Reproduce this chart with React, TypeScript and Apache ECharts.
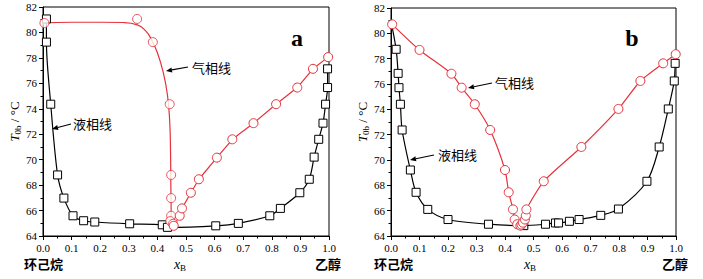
import React, { useEffect, useRef } from "react";
import * as echarts from "echarts";

// ---------- data ----------
// Panel a
const liquidA: [number, number][] = [
  [0.012, 81.06], [0.012, 79.24], [0.027, 74.36], [0.051, 68.8], [0.073, 66.98],
  [0.105, 65.59], [0.142, 65.2], [0.181, 65.1], [0.303, 64.96], [0.417, 64.88],
  [0.435, 64.68], [0.604, 64.8], [0.683, 64.99], [0.793, 65.59], [0.83, 66.17],
  [0.898, 67.4], [0.931, 68.46], [0.948, 70.2], [0.964, 71.6], [0.979, 72.87],
  [0.988, 74.36], [0.995, 75.67], [0.995, 77.14],
];
const vaporCurveA: [number, number][] = [
  [0.0, 80.75], [0.1, 80.8], [0.2, 80.8], [0.28, 80.78], [0.33, 80.6], [0.36, 80.1],
  [0.38, 79.4], [0.4, 78.4], [0.42, 76.9], [0.435, 75.1], [0.443, 73.0],
  [0.446, 70.5], [0.447, 68.0], [0.448, 66.0], [0.448, 65.2],
];
const vaporPointsA: [number, number][] = [
  [0.005, 80.74], [0.329, 81.06], [0.384, 79.24], [0.443, 74.36], [0.448, 68.8],
  [0.448, 66.98], [0.448, 65.59], [0.445, 65.17], [0.455, 64.96],
];
const vaporBranchA: [number, number][] = [
  [0.457, 64.8], [0.478, 65.59], [0.486, 66.17], [0.517, 67.4], [0.545, 68.46],
  [0.608, 70.16], [0.662, 71.6], [0.736, 72.87], [0.815, 74.36], [0.889, 75.67],
  [0.944, 77.14], [0.997, 78.06],
];
// Panel b
const liquidB: [number, number][] = [
  [0.0, 80.95], [0.018, 78.74], [0.025, 76.84], [0.028, 75.71], [0.033, 74.4],
  [0.039, 72.37], [0.068, 69.21], [0.088, 67.45], [0.129, 66.1], [0.2, 65.3],
  [0.342, 64.93], [0.466, 64.82], [0.542, 64.93], [0.577, 65.03], [0.588, 65.03],
  [0.626, 65.16], [0.66, 65.3], [0.736, 65.63], [0.798, 66.13], [0.898, 68.32],
  [0.941, 71.03], [0.973, 74.03], [0.994, 76.24], [0.997, 77.63],
];
const vaporLeftB: [number, number][] = [
  [0.004, 80.71], [0.1, 78.69], [0.212, 76.81], [0.248, 75.71], [0.294, 74.4],
  [0.348, 72.37], [0.4, 69.21], [0.413, 67.45], [0.428, 66.1], [0.434, 65.3],
  [0.443, 64.93], [0.454, 64.82],
];
const vaporRightB: [number, number][] = [
  [0.458, 64.9], [0.463, 65.05], [0.47, 65.3], [0.473, 65.6], [0.475, 66.1],
  [0.536, 68.32], [0.668, 71.03], [0.798, 74.03], [0.875, 76.24], [0.955, 77.63],
  [0.999, 78.35],
];
const xMin = 0, xMax = 1, xStep = 0.1;
const yMin = 64, yMax = 82, yStep = 2;
const panelLabels = ["a", "b"];
const leftComponent = "环己烷";
const rightComponent = "乙醇";
const vaporName = "气相线";
const liquidName = "液相线";

const RED = "#e5323b";
const SERIF = "'Liberation Serif', 'DejaVu Serif', serif";
const CJK = "'Noto Sans CJK SC', sans-serif";

function arrow(x1: number, y1: number, x2: number, y2: number) {
  // tail (x1,y1) -> head (x2,y2)
  const dx = x2 - x1, dy = y2 - y1;
  const len = Math.hypot(dx, dy);
  const ux = dx / len, uy = dy / len;
  const hl = 6, hw = 2.5;
  const bx = x2 - ux * hl, by = y2 - uy * hl;
  return [
    { type: "line", shape: { x1, y1, x2: bx, y2: by }, style: { stroke: "#000", lineWidth: 1.2 } },
    {
      type: "polygon",
      shape: { points: [[x2, y2], [bx - uy * hw, by + ux * hw], [bx + uy * hw, by - ux * hw]] },
      style: { fill: "#000" },
    },
  ];
}

export default function App() {
  const ref = useRef<HTMLDivElement>(null);
  useEffect(() => {
    if (!ref.current) return;
    const chart = echarts.init(ref.current, null, { renderer: "svg" });
    const grids = [
      { left: 43, top: 7, width: 286, height: 229 },
      { left: 391, top: 8, width: 285, height: 228 },
    ];
    const xAxis = grids.map((_, i) => ({
      type: "value",
      gridIndex: i,
      min: xMin,
      max: xMax,
      interval: xStep,
      axisLine: { show: true, onZero: false, lineStyle: { color: "#000", width: 1 } },
      axisTick: { show: true, inside: false, length: 4, lineStyle: { color: "#000" } },
      minorTick: { show: true, splitNumber: 2, length: 2.5, lineStyle: { color: "#000" } },
      splitLine: { show: false },
      axisLabel: {
        color: "#000",
        fontFamily: SERIF,
        fontSize: 11,
        margin: 6,
        formatter: (v: number) => v.toFixed(1),
      },
    }));
    const yAxis = grids.map((_, i) => ({
      type: "value",
      gridIndex: i,
      min: yMin,
      max: yMax,
      interval: yStep,
      axisLine: { show: true, onZero: false, lineStyle: { color: "#000", width: 1 } },
      axisTick: { show: true, inside: false, length: 4, lineStyle: { color: "#000" } },
      minorTick: { show: true, splitNumber: 2, length: 2.5, lineStyle: { color: "#000" } },
      splitLine: { show: false },
      axisLabel: { color: "#000", fontFamily: SERIF, fontSize: 11, margin: 6 },
      name: "{i|T}{s|0b}{n| / °C}",
      nameLocation: "middle",
      nameGap: 19,
      nameRotate: 90,
      nameTextStyle: {
        rich: {
          i: { fontFamily: SERIF, fontStyle: "italic", fontSize: 13, color: "#000" },
          s: { fontFamily: SERIF, fontSize: 9, color: "#000", verticalAlign: "bottom", padding: [6, 0, 0, 0] },
          n: { fontFamily: SERIF, fontSize: 13, color: "#000" },
        },
      },
    }));

    const squareStyle = { color: "#fff", borderColor: "#000", borderWidth: 1 };
    const circleStyle = { color: "#fff", borderColor: RED, borderWidth: 1 };

    const series: any[] = [
      {
        type: "line", xAxisIndex: 0, yAxisIndex: 0, data: liquidA, smooth: 0.3,
        symbol: "rect", symbolSize: 8, itemStyle: squareStyle,
        lineStyle: { color: "#000", width: 1.2 }, z: 3,
      },
      {
        type: "line", xAxisIndex: 0, yAxisIndex: 0, data: vaporCurveA, smooth: 0.5,
        symbol: "none", lineStyle: { color: RED, width: 1.2 }, z: 2,
      },
      {
        type: "scatter", xAxisIndex: 0, yAxisIndex: 0, data: vaporPointsA,
        symbol: "circle", symbolSize: 9, itemStyle: circleStyle, z: 4,
      },
      {
        type: "line", xAxisIndex: 0, yAxisIndex: 0, data: vaporBranchA,
        symbol: "circle", symbolSize: 9, itemStyle: circleStyle,
        lineStyle: { color: RED, width: 1.2 }, z: 4,
      },
      {
        type: "line", xAxisIndex: 1, yAxisIndex: 1,
        data: liquidB.map((p, i) => (i === 0 ? { value: p, symbol: "none" } : p)),
        smooth: 0.3, symbol: "rect", symbolSize: 8, itemStyle: squareStyle,
        lineStyle: { color: "#000", width: 1.2 }, z: 3,
      },
      {
        type: "line", xAxisIndex: 1, yAxisIndex: 1, data: vaporLeftB, smooth: 0.25,
        symbol: "circle", symbolSize: 9, itemStyle: circleStyle,
        lineStyle: { color: RED, width: 1.2 }, z: 4,
      },
      {
        type: "line", xAxisIndex: 1, yAxisIndex: 1, data: vaporRightB, smooth: 0.2,
        symbol: "circle", symbolSize: 9, itemStyle: circleStyle,
        lineStyle: { color: RED, width: 1.2 }, z: 4,
      },
    ];

    const txt = (x: number, y: number, text: string, extra: any = {}) => ({
      type: "text",
      x, y,
      style: { text, fill: "#000", fontFamily: CJK, fontSize: 13, align: "left", verticalAlign: "middle", ...extra },
    });
    const xName = (cx: number) => ({
      type: "text",
      x: cx, y: 264,
      style: {
        text: "{i|x}{s|B}",
        align: "center",
        verticalAlign: "middle",
        rich: {
          i: { fontFamily: SERIF, fontStyle: "italic", fontSize: 14, fill: "#000" } as any,
          s: { fontFamily: SERIF, fontSize: 9, fill: "#000", padding: [7, 0, 0, 0] } as any,
        },
      },
    });

    const graphic: any[] = [
      { type: "text", x: 297, y: 38, style: { text: panelLabels[0], fill: "#000", fontFamily: SERIF, fontWeight: "bold", fontSize: 24, align: "center", verticalAlign: "middle" } },
      { type: "text", x: 632, y: 38, style: { text: panelLabels[1], fill: "#000", fontFamily: SERIF, fontWeight: "bold", fontSize: 24, align: "center", verticalAlign: "middle" } },
      txt(192, 67, vaporName),
      ...arrow(188, 67, 166, 71),
      txt(73, 123, liquidName),
      ...arrow(71, 124, 52, 129),
      txt(495, 82, vaporName),
      ...arrow(492, 83, 468, 88),
      txt(438, 154, liquidName),
      ...arrow(434, 155, 410, 160),
      txt(24, 263, leftComponent, { fontWeight: "bold" }),
      txt(315, 263, rightComponent, { fontWeight: "bold" }),
      txt(374, 263, leftComponent, { fontWeight: "bold" }),
      txt(662, 263, rightComponent, { fontWeight: "bold" }),
      xName(180),
      xName(530),
    ];

    chart.setOption({
      animation: false,
      backgroundColor: "#fff",
      grid: grids.map((g) => ({ ...g, show: true, borderColor: "#000", borderWidth: 1, backgroundColor: "transparent" })),
      xAxis,
      yAxis,
      series,
      graphic,
    });
    return () => chart.dispose();
  }, []);
  return (
    <div
      ref={ref}
      style={{ position: "fixed", left: 0, top: 0, width: 703, height: 279, background: "#fff" }}
    />
  );
}
